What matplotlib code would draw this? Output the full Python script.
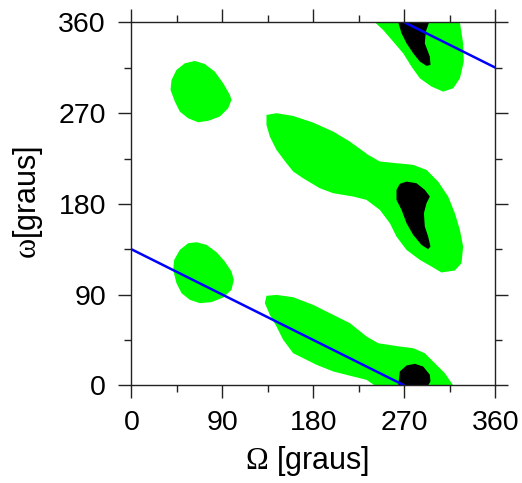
import numpy as np
import matplotlib
matplotlib.use("Agg")
import matplotlib.pyplot as plt

plt.rcParams['font.family'] = ['Liberation Sans', 'DejaVu Sans']
plt.rcParams['mathtext.fontset'] = 'custom'
plt.rcParams['mathtext.rm'] = 'Liberation Serif'
plt.rcParams['mathtext.it'] = 'Liberation Serif:italic'

# contornos das regioes (Omega, omega) em graus
ilha_sup_Om = [62.6, 72.5, 82.4, 90.7, 97.3, 98.9, 95.6, 87.4, 75.8, 65.9, 56.0, 47.8, 42.9, 38.6, 39.6, 44.5, 52.8]
ilha_sup_om = [321.7, 318.7, 311.1, 299.6, 288.0, 283.1, 274.8, 266.6, 262.3, 260.9, 264.9, 271.5, 281.4, 293.0, 302.9, 312.8, 319.4]

ilha_inf_Om = [64.3, 74.2, 84.1, 92.3, 98.9, 101.2, 98.9, 90.7, 79.1, 67.6, 57.7, 49.5, 44.5, 41.2, 42.2, 47.8, 56.0]
ilha_inf_om = [142.0, 139.4, 132.1, 122.9, 113.0, 104.7, 94.8, 87.2, 82.6, 81.6, 84.9, 91.5, 101.4, 114.6, 124.5, 134.4, 141.0]

meio_Om = [133.5, 143.4, 159.9, 179.7, 199.5, 216.0, 234.1, 245.6, 268.7, 278.6, 291.8, 303.3, 313.2, 319.8,
           324.8, 328.0, 326.4, 319.8, 306.6, 296.7, 285.2, 272.0, 262.1, 255.5, 245.6, 232.4, 219.2, 199.5,
           186.3, 169.8, 159.9, 153.3, 143.4, 136.8, 133.5]
meio_om = [268.2, 269.9, 267.2, 260.6, 251.7, 241.8, 228.6, 222.0, 219.7, 218.7, 213.7, 202.1, 187.3, 170.8,
           154.3, 137.7, 121.2, 114.0, 112.0, 117.9, 124.5, 134.4, 147.6, 160.9, 174.1, 184.0, 187.3, 190.6,
           195.5, 205.4, 212.1, 220.3, 233.5, 246.7, 258.3]

meio_preto_Om = [272.0, 281.9, 290.1, 295.1, 291.8, 289.2, 290.1, 293.4, 295.7, 293.4, 286.8, 278.6, 272.0,
                 267.1, 262.1, 262.1, 265.4]
meio_preto_om = [202.1, 200.5, 193.9, 187.3, 180.7, 170.8, 157.6, 147.6, 137.7, 135.1, 139.4, 149.3, 160.9,
                 174.1, 184.0, 193.9, 199.9]

baixo_Om = [133.5, 143.4, 159.9, 179.7, 199.5, 216.0, 232.4, 244.0, 265.4, 278.6, 290.1, 300.0, 309.9, 318.2,
            240.7, 232.4, 219.2, 199.5, 183.0, 169.8, 159.9, 150.0, 143.4, 136.8, 131.9]
baixo_om = [88.9, 89.8, 87.5, 79.9, 70.0, 61.8, 48.6, 41.9, 38.6, 37.0, 32.0, 22.1, 12.2, 0.0,
            0.0, 5.6, 8.9, 13.9, 20.5, 27.1, 32.0, 45.3, 58.5, 70.0, 81.6]

baixo_preto_Om = [263.8, 265.4, 272.0, 280.2, 288.5, 295.1, 295.7, 293.4]
baixo_preto_om = [0.0, 13.9, 19.8, 21.5, 18.8, 10.6, 4.0, 0.0]

topo_Om = [240.7, 248.9, 258.8, 268.7, 276.9, 285.2, 296.7, 308.3, 318.2, 324.8, 328.7, 328.0, 324.8]
topo_om = [360.0, 352.4, 340.9, 329.3, 316.1, 304.5, 296.3, 291.3, 294.6, 304.5, 321.1, 339.2, 360.0]

topo_preto_Om = [263.8, 267.1, 272.0, 278.6, 285.2, 291.8, 295.7, 295.1, 290.1, 291.1, 294.4]
topo_preto_om = [360.0, 349.1, 339.2, 329.3, 321.1, 316.8, 317.8, 326.0, 339.2, 350.8, 360.0]

# reta azul (dois trechos)
reta1_Om = [0, 270]
reta1_om = [135, 0]
reta2_Om = [270, 360]
reta2_om = [360, 315]

fig = plt.figure(figsize=(5.22, 4.83), dpi=100)
ax = fig.add_axes([0.2519, 0.2019, 0.9492 - 0.2519, 0.9538 - 0.2019])

verde = '#00ff00'
for Om, om in [(ilha_sup_Om, ilha_sup_om), (ilha_inf_Om, ilha_inf_om), (meio_Om, meio_om),
               (baixo_Om, baixo_om), (topo_Om, topo_om)]:
    ax.fill(Om, om, color=verde, lw=0)
for Om, om in [(meio_preto_Om, meio_preto_om), (baixo_preto_Om, baixo_preto_om), (topo_preto_Om, topo_preto_om)]:
    ax.fill(Om, om, color='black', lw=0)

ax.plot(reta1_Om, reta1_om, color='#0000ff', lw=1.8, solid_capstyle='butt')
ax.plot(reta2_Om, reta2_om, color='#0000ff', lw=1.8, solid_capstyle='butt')

ax.set_xlim(0, 360)
ax.set_ylim(0, 360)
ax.set_xticks([0, 90, 180, 270, 360])
ax.set_yticks([0, 90, 180, 270, 360])
ax.set_xticks([45, 135, 225, 315], minor=True)
ax.set_yticks([45, 135, 225, 315], minor=True)
ax.tick_params(which='both', direction='out', top=True, right=True, width=1.0, color='#222222')
ax.tick_params(which='major', length=9.4)
ax.tick_params(which='minor', length=4.7)
ax.tick_params(axis='x', labelsize=20.5, pad=8)
ax.tick_params(axis='y', labelsize=20.5, pad=9)
for s in ax.spines.values():
    s.set_linewidth(1.0)
    s.set_color('#222222')

ax.set_xlabel(r'$\mathrm{\Omega}$ [graus]', fontsize=22)
ax.set_ylabel(r'$\mathrm{\omega}$[graus]', fontsize=22)
ax.xaxis.set_label_coords(0.4835, -0.162)
ax.yaxis.set_label_coords(-0.238, 0.505)

fig.savefig('out.png', dpi=100)
